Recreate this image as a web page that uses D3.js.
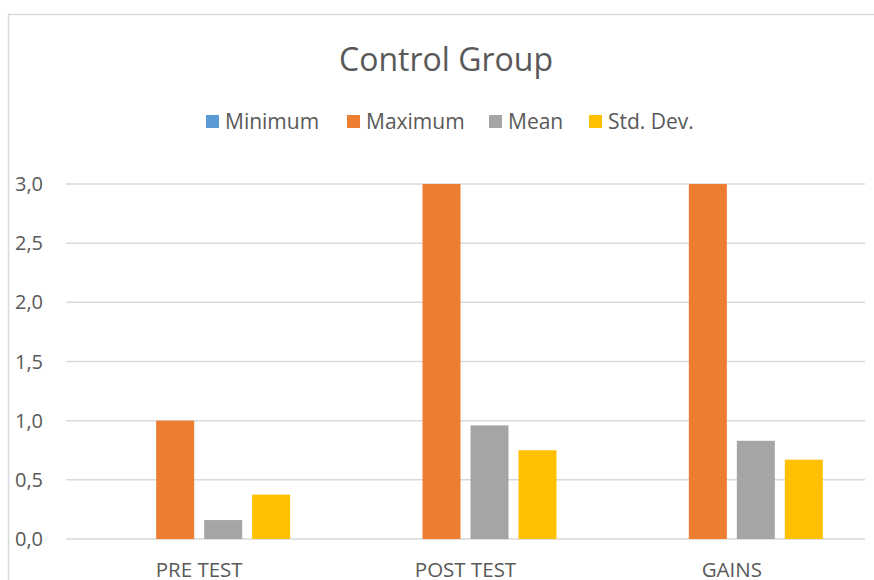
<!DOCTYPE html>
<html>
<head>
<meta charset="utf-8">
<script src="https://cdn.jsdelivr.net/npm/d3@7"></script>
<style>
  body { margin: 0; background: #fff; }
  svg { display: block; font-family: "Open Sans", sans-serif; }
</style>
</head>
<body>
<svg id="chart" width="874" height="580"></svg>
<script>
// chart data
const categories = ['PRE TEST', 'POST TEST', 'GAINS'];
const seriesNames = ['Minimum', 'Maximum', 'Mean', 'Std. Dev.'];
const minimum = [0, 0, 0];
const maximum = [1.0, 3.0, 3.0];
const mean = [0.16, 0.96, 0.83];
const stdDev = [0.375, 0.75, 0.67];
const yTicks = [0, 0.5, 1.0, 1.5, 2.0, 2.5, 3.0];
const colors = ['#5B9BD5', '#ED7D31', '#A5A5A5', '#FFC000'];

const series = [minimum, maximum, mean, stdDev];

const svg = d3.select('#chart');
const textColor = '#595959';
const gridColor = '#d9d9d9';

// outer chart border
svg.append('rect')
    .attr('x', 8.5).attr('y', 14.5)
    .attr('width', 900).attr('height', 600)
    .attr('fill', 'none')
    .attr('stroke', gridColor)
    .attr('stroke-width', 1.5);

const plot = { left: 66, right: 865, top: 184, bottom: 539 };

const x0 = d3.scaleBand()
    .domain(categories)
    .range([plot.left, plot.right])
    .paddingInner(0)
    .paddingOuter(0);

const groupW = 182;
const x1 = d3.scaleBand()
    .domain(seriesNames)
    .range([(x0.bandwidth() - groupW) / 2, (x0.bandwidth() + groupW) / 2])
    .paddingInner(10 / 48);

const y = d3.scaleLinear()
    .domain([0, 3])
    .range([plot.bottom, plot.top]);

// gridlines
svg.append('g')
    .selectAll('line')
    .data(yTicks)
    .join('line')
    .attr('x1', plot.left)
    .attr('x2', plot.right)
    .attr('y1', d => y(d))
    .attr('y2', d => y(d))
    .attr('stroke', gridColor)
    .attr('stroke-width', 1.5);

// y labels
const fmt = d => d3.format('.1f')(d).replace('.', ',');
svg.append('g')
    .selectAll('text')
    .data(yTicks)
    .join('text')
    .attr('x', 43)
    .attr('y', d => y(d))
    .attr('dy', '0.35em')
    .attr('text-anchor', 'end')
    .attr('fill', textColor)
    .attr('font-size', '20px')
    .text(fmt);

// bars
const groups = svg.append('g')
    .selectAll('g')
    .data(categories)
    .join('g')
    .attr('transform', d => `translate(${x0(d)},0)`);

groups.selectAll('rect')
    .data((c, i) => seriesNames.map((s, j) => ({ s, v: series[j][i], color: colors[j] })))
    .join('rect')
    .attr('x', d => x1(d.s))
    .attr('width', x1.bandwidth())
    .attr('y', d => y(d.v))
    .attr('height', d => y(0) - y(d.v))
    .attr('fill', d => d.color);

// x labels
svg.append('g')
    .selectAll('text')
    .data(categories)
    .join('text')
    .attr('x', d => x0(d) + x0.bandwidth() / 2)
    .attr('y', 577)
    .attr('text-anchor', 'middle')
    .attr('fill', textColor)
    .attr('font-size', '20.5px')
    .text(d => d);

// title
svg.append('text')
    .attr('x', 446)
    .attr('y', 71)
    .attr('text-anchor', 'middle')
    .attr('fill', textColor)
    .attr('font-size', '32px')
    .text('Control Group');

// legend
const legendX = [206, 347, 489, 589];
const legend = svg.append('g')
    .selectAll('g')
    .data(seriesNames)
    .join('g')
    .attr('transform', (d, i) => `translate(${legendX[i]},115)`);

legend.append('rect')
    .attr('width', 13)
    .attr('height', 13)
    .attr('fill', (d, i) => colors[i]);

legend.append('text')
    .attr('x', 19)
    .attr('y', 7)
    .attr('dy', '0.35em')
    .attr('fill', textColor)
    .attr('font-size', '21px')
    .text(d => d);
</script>
</body>
</html>
